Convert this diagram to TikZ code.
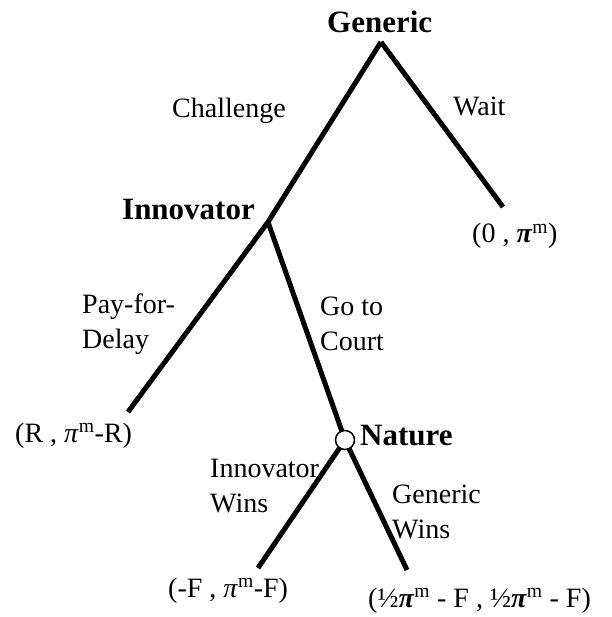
\documentclass[tikz,border=0pt]{standalone}
\usepackage{fontspec}
\setmainfont{Liberation Serif}
\newcommand{\pim}{\textit{π}\textsuperscript{m}}
\newcommand{\pimb}{\textbf{\textit{π}}\textsuperscript{m}}
\tikzset{branch/.style={line width=5pt},
  player/.style={font=\fontsize{31}{34}\selectfont\bfseries,inner sep=0pt,anchor=base west},
  move/.style={font=\fontsize{28}{35}\selectfont,align=left,inner sep=0pt,anchor=base west},
  payoff/.style={font=\fontsize{28}{30}\selectfont,inner sep=0pt,anchor=base west},
  chance/.style={circle,draw,fill=white,line width=1.5pt,minimum size=19pt,inner sep=0pt}}

\begin{document}
\begin{tikzpicture}[x=1pt,y=-1pt]
    \useasboundingbox (0,0) rectangle (611,617);
    % decision nodes and leaves
    \coordinate (generic) at (381,42);
    \coordinate (innovator) at (268,222);
    \coordinate (nature) at (345,440);
    \coordinate (wait) at (503,207);
    \coordinate (delay) at (128,412);
    \coordinate (iwins) at (258,568);
    \coordinate (gwins) at (407,570);
    % branches
    \draw[branch] (generic) -- (wait);
    \draw[branch] (generic) -- (innovator);
    \draw[branch] (innovator) -- (delay);
    \draw[branch] (innovator) -- (nature);
    \draw[branch] (nature) -- (iwins);
    \draw[branch] (nature) -- (gwins);
    \node[chance] (naturec) at (nature) {};
    % players
    \node[player] (genlab) at (327,33) {Generic};
    \node[player] (innlab) at (122,220) {Innovator};
    \node[player] (natlab) at (360,445) {Nature};
    % moves (base = last line)
    \node[move] (challenge) at (172,118) {Challenge};
    \node[move] (waitlab) at (453,116) {Wait};
    \node[move] (pfd) at (82,348) {Pay-for-\\Delay};
    \node[move] (court) at (320,350) {Go to\\Court};
    \node[move] (iwlab) at (210,512) {Innovator\\Wins};
    \node[move] (gwlab) at (392,538) {Generic\\Wins};
    % payoffs
    \node[payoff] (pwait) at (472,243) {(0 , \pimb)};
    \node[payoff] (pdelay) at (15,442) {(R , \pim-R)};
    \node[payoff] (piw) at (168,597) {(-F , \pim-F)};
    \node[payoff] (pgw) at (368,607) {(½\pimb{} - F , ½\pimb{} - F)};
\end{tikzpicture}
\end{document}
